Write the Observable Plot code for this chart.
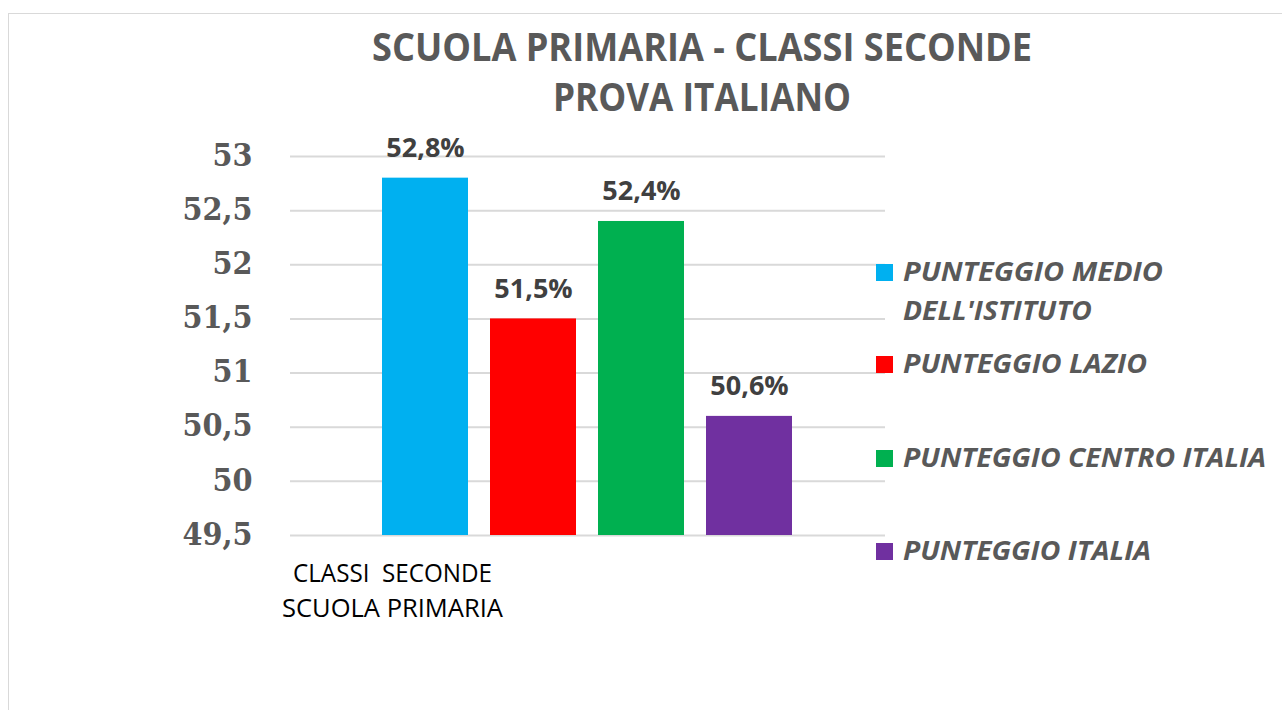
<!DOCTYPE html>
<html><head><meta charset="utf-8">
<script src="https://cdn.jsdelivr.net/npm/d3@7"></script>
<script src="https://cdn.jsdelivr.net/npm/@observablehq/plot@0.6"></script>
<style>
body{margin:0;background:#fff;}
#wrap{position:relative;width:1282px;height:710px;overflow:hidden;background:#fff;}
#frame{position:absolute;left:8px;top:13px;width:1300px;height:720px;border:1px solid #d9d9d9;box-sizing:border-box;}
#chart{position:absolute;left:0;top:0;}
.t{position:absolute;white-space:pre;line-height:1;font-family:"Open Sans",sans-serif;transform-origin:0 0;}
.sw{position:absolute;width:17px;height:17px;}
</style>
</head><body>
<div id="wrap"><div id="frame"></div><div id="chart"></div></div>
<script>
const titleLines = ["SCUOLA PRIMARIA - CLASSI SECONDE", "PROVA ITALIANO"];
const categoryLines = ["CLASSI  SECONDE", "SCUOLA PRIMARIA"];
const series = ["PUNTEGGIO MEDIO DELL'ISTITUTO", "PUNTEGGIO LAZIO", "PUNTEGGIO CENTRO ITALIA", "PUNTEGGIO ITALIA"];
const legendLines = [["PUNTEGGIO MEDIO", "DELL'ISTITUTO"], ["PUNTEGGIO LAZIO"], ["PUNTEGGIO CENTRO ITALIA"], ["PUNTEGGIO ITALIA"]];
const values = [52.8, 51.5, 52.4, 50.6];
const valueLabels = ["52,8%", "51,5%", "52,4%", "50,6%"];
const colors = ["#00b0f0", "#ff0000", "#00b050", "#7030a0"];
const yTicks = [49.5, 50, 50.5, 51, 51.5, 52, 52.5, 53];

const data = series.map((s, i) => ({s, v: values[i], lab: valueLabels[i]}));

const chart = Plot.plot({
  width: 1282, height: 710,
  marginTop: 156, marginBottom: 175, marginLeft: 290, marginRight: 397,
  style: {background: "transparent"},
  x: {type: "band", domain: series, paddingInner: 0.2037, paddingOuter: 0.856, axis: null},
  y: {domain: [49.5, 53], axis: null},
  color: {domain: series, range: colors},
  marks: [
    Plot.ruleY(yTicks, {stroke: "#d9d9d9", strokeWidth: 2}),
    Plot.axisY(yTicks, {tickSize: 0, tickPadding: 38, label: null,
      tickFormat: d => String(d).replace(".", ","),
      fontSize: 32, fontWeight: "bold", color: "#595959",
      fontFamily: "'DejaVu Serif Condensed','Liberation Serif',serif", dy: -1}),
    Plot.rectY(data, {x: "s", y1: 49.5, y2: "v", fill: "s"}),
    Plot.text(data, {x: "s", y: "v", text: "lab", lineAnchor: "bottom", dy: -21,
      fontFamily: "Open Sans", fontWeight: "bold", fontSize: 27, fill: "#404040"})
  ]
});
document.getElementById("chart").appendChild(chart);

const wrap = document.getElementById("wrap");
function addText(str, x0, x1, baseline, F, css) {
  const el = document.createElement("div");
  el.className = "t";
  el.textContent = str;
  el.style.fontSize = F + "px";
  Object.assign(el.style, css || {});
  el.style.left = x0 + "px";
  el.style.top = (baseline - 0.888 * F) + "px";
  wrap.appendChild(el);
  const w = el.getBoundingClientRect().width;
  if (w > 0) el.style.transform = `scaleX(${(x1 - x0) / w})`;
  return el;
}
// title
addText(titleLines[0], 372, 1032, 62, 40, {fontWeight: "bold", color: "#595959"});
addText(titleLines[1], 553, 851, 112, 40, {fontWeight: "bold", color: "#595959"});
// category label
addText(categoryLines[0], 293, 492, 582, 26, {color: "#000"});
addText(categoryLines[1], 282, 503, 617, 26, {color: "#000"});
// legend
const legendY = [264, 356, 450, 543];
const legendW = [[1163, 1092], [1147], [1266], [1151]];
legendLines.forEach((lines, i) => {
  const sw = document.createElement("div");
  sw.className = "sw";
  sw.style.left = "876px";
  sw.style.top = legendY[i] + "px";
  sw.style.background = colors[i];
  wrap.appendChild(sw);
  lines.forEach((ln, j) => {
    addText(ln, 903, legendW[i][j], legendY[i] + 18 + j * 39, 26.5,
      {fontWeight: "bold", fontStyle: "italic", color: "#595959"});
  });
});
</script>
</body></html>
